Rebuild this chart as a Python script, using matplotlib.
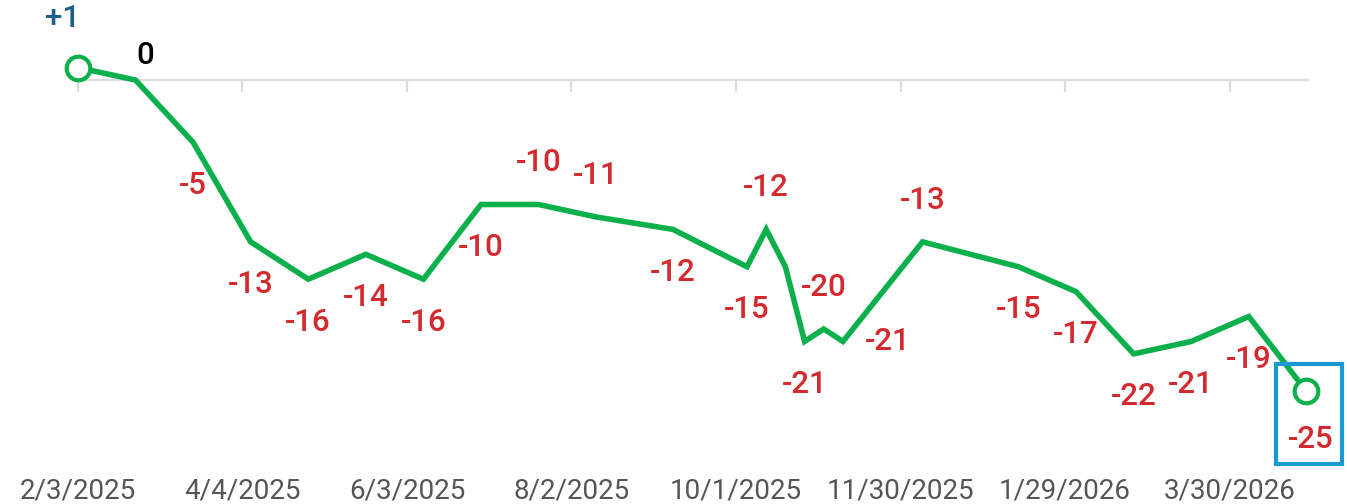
import matplotlib
matplotlib.use('Agg')
import matplotlib.pyplot as plt
import matplotlib.dates as mdates
from matplotlib.patches import Rectangle
from matplotlib.transforms import IdentityTransform
from datetime import datetime

# Data
dates = ['2025-02-03', '2025-02-24', '2025-03-17', '2025-04-07', '2025-04-28',
         '2025-05-19', '2025-06-09', '2025-06-30', '2025-07-21', '2025-08-11',
         '2025-09-08', '2025-10-05', '2025-10-12', '2025-10-19', '2025-10-26',
         '2025-11-02', '2025-11-09', '2025-12-08', '2026-01-12', '2026-02-02',
         '2026-02-23', '2026-03-16', '2026-04-06', '2026-04-27']
values = [1, 0, -5, -13, -16, -14, -16, -10, -10, -11, -12, -15, -12, -15,
          -21, -20, -21, -13, -15, -17, -22, -21, -19, -25]
tick_labels = ['2/3/2025', '4/4/2025', '6/3/2025', '8/2/2025', '10/1/2025',
               '11/30/2025', '1/29/2026', '3/30/2026']

# where each value label sits: a=above, b=below, r=right, n=none, s=start, z=zero
label_pos = ['s', 'z', 'b', 'b', 'b', 'b', 'b', 'b', 'a', 'a', 'b', 'b', 'a', 'n',
             'b', 'a', 'r', 'a', 'b', 'b', 'b', 'b', 'b', 'B']

GREEN = '#0bb04b'
RED = '#d42a2f'
BLUE = '#1b5f8c'
GRAY = '#dcdcdc'

plt.rcParams['font.family'] = ['Roboto', 'DejaVu Sans']

x = [mdates.date2num(datetime.strptime(d, '%Y-%m-%d')) for d in dates]
ticks = [mdates.date2num(datetime.strptime(t, '%m/%d/%Y')) for t in tick_labels]

fig = plt.figure(figsize=(13.47, 5.04), dpi=100)
ax = fig.add_axes([0, 0, 1, 1])
ax.axis('off')

x0 = x[0]
ax.set_xlim(x0 - 28.4, x0 + 462.8)
ax.set_ylim(-34.06, 6.43)

# zero line with small ticks below it
ax.hlines(0, x0, x[-1] + 1, color=GRAY, lw=1.6, zorder=1)
ax.vlines(ticks, -1.0, 0, color=GRAY, lw=1.6, zorder=1)
for t, lab in zip(ticks, tick_labels):
    ax.text(t, 0.026, lab, transform=ax.get_xaxis_transform(), ha='center', va='center',
            fontsize=20, color='#555555')

ax.plot(x, values, color=GREEN, lw=4, solid_joinstyle='miter', zorder=3)
ax.plot([x[0], x[-1]], [values[0], values[-1]], 'o', ms=17, mfc='white', mec=GREEN,
        mew=3, zorder=4)

offsets = {'a': (0, 30), 'b': (0, -31), 'r': (32, 0), 'B': (3, -35),
           's': (-11, 35), 'z': (7, 18)}
for xi, v, p in zip(x, values, label_pos):
    if p == 'n':
        continue
    txt = '+%d' % v if v > 0 else '%d' % v
    col = RED
    if p == 's':
        col = BLUE
    elif p == 'z':
        col = 'black'
    ax.annotate(txt, (xi, v), xytext=offsets[p], textcoords='offset points',
                ha='center', va='center', fontsize=22.5, fontweight='medium',
                color=col, zorder=5)

# highlight box around the latest point
fig.canvas.draw()
px, py = ax.transData.transform((x[-1], values[-1]))
ax.add_patch(Rectangle((px - 30, py - 73), 66, 100, transform=IdentityTransform(),
                       fill=False, ec='#1a9ad2', lw=3, zorder=6))

fig.savefig('out.png', dpi=100)
